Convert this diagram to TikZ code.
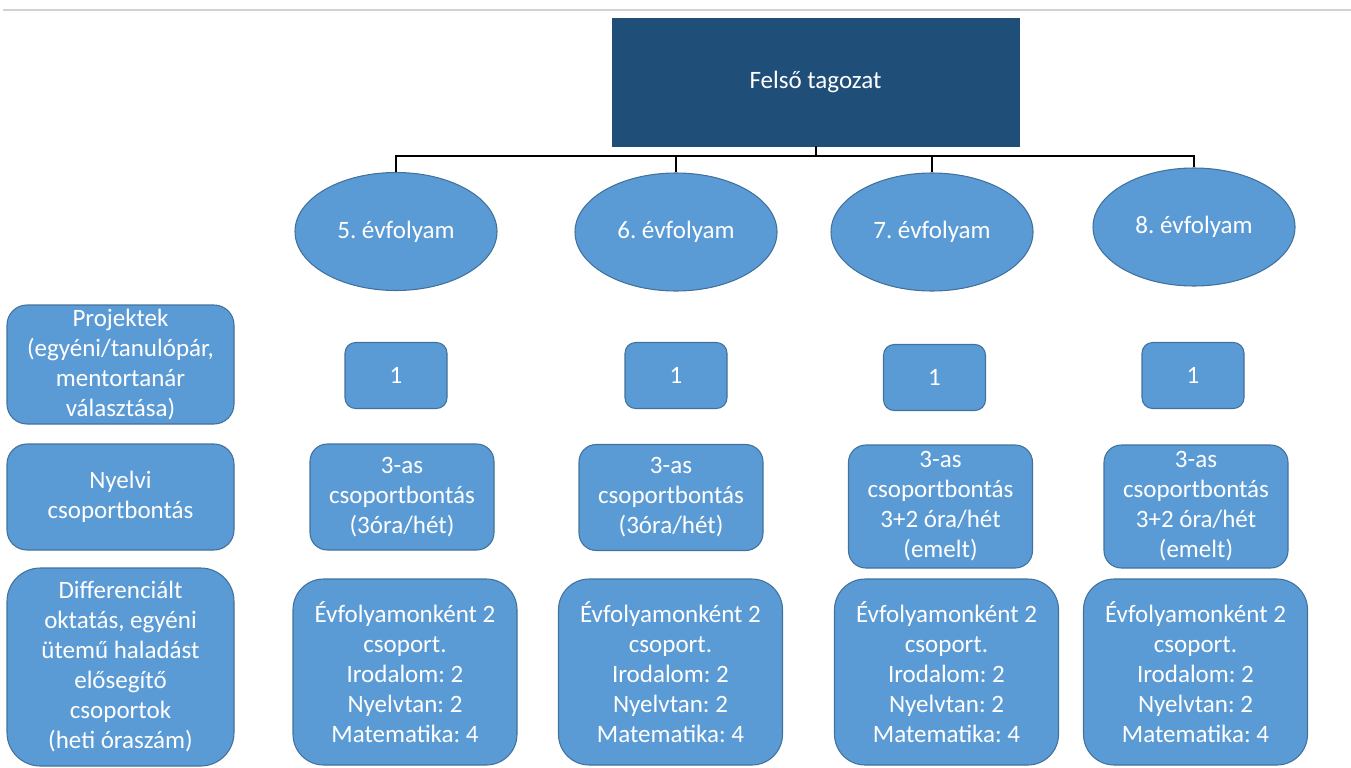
\documentclass[tikz,border=0pt]{standalone}
\usepackage{fontspec}
\setmainfont{Carlito}
\usetikzlibrary{shapes.geometric}
\definecolor{kek}{HTML}{5B9BD5}
\definecolor{kekkeret}{HTML}{41719C}
\definecolor{sotetkek}{HTML}{1F4E79}
\frenchspacing

\begin{document}
\begin{tikzpicture}[
    x=0.75pt, y=-0.75pt,
    every node/.style={text=white, align=center, inner sep=0pt,
        font=\fontsize{18.75}{22.5}\selectfont},
    fej/.style={rectangle, fill=sotetkek, draw=sotetkek,
        minimum width=305.25pt, minimum height=96pt},
    evf/.style={ellipse, fill=kek, draw=kekkeret, line width=0.8pt,
        minimum width=151.5pt, minimum height=88.5pt},
    doboz/.style={rectangle, fill=kek, draw=kekkeret, line width=0.8pt},
    egy/.style={doboz, rounded corners=8pt,
        minimum width=76.5pt, minimum height=49.5pt},
    nyelv/.style={doboz, rounded corners=13pt,
        minimum width=138pt, minimum height=#1},
    nyelv/.default=79.5pt,
    csop/.style={doboz, rounded corners=23pt,
        minimum width=168pt, minimum height=139.5pt},
    bal/.style={doboz, rounded corners=#1,
        minimum width=170.25pt},
    bal/.default=15pt,
    vonal/.style={black, line width=1.5pt}
  ]
    \useasboundingbox (0,0) rectangle (1351,767);
    \draw[gray!35, line width=1.5pt] (3,10) -- (1351,10);

    \node[fej] (felso) at (815.5,82) {Felső tagozat};

    \node[evf] (e5) at (396,231.5) {5. évfolyam};
    \node[evf] (e6) at (676,232) {6. évfolyam};
    \node[evf] (e7) at (932,232) {7. évfolyam};
    \node[evf] (e8) at (1194,227) {8. évfolyam};

    \coordinate (sin) at (815.5,156);
    \draw[vonal] (felso.south) -- (felso.south |- sin);
    \draw[vonal] (e5.north) -- (e5.north |- sin) -- (e8.north |- sin) -- (e8.north);
    \draw[vonal] (e6.north) -- (e6.north |- sin);
    \draw[vonal] (e7.north) -- (e7.north |- sin);

    \node[bal, minimum height=89.25pt] (projekt) at (120.5,364.5)
        {Projektek\\(egyéni/tanulópár,\\mentortanár\\választása)};
    \node[bal, minimum height=79.5pt] (nyelvi) at (120.5,497)
        {Nyelvi\\csoportbontás};
    \node[bal=25pt, minimum height=148.5pt] (diff) at (120.5,667)
        {Differenciált\\oktatás, egyéni\\ütemű haladást\\elősegítő\\csoportok\\(heti óraszám)};

    \node[egy] (p5) at (396,375.5) {1};
    \node[egy] (p6) at (676,375.5) {1};
    \node[egy] (p7) at (934.5,377.5) {1};
    \node[egy] (p8) at (1193,375.5) {1};

    \node[nyelv] (n5) at (402,497) {3-as\\csoportbontás\\(3óra/hét)};
    \node[nyelv] (n6) at (671,497.5) {3-as\\csoportbontás\\(3óra/hét)};
    \node[nyelv=92.25pt] (n7) at (940.5,506.5)
        {3-as\\csoportbontás\\3+2 óra/hét\\(emelt)};
    \node[nyelv=92.25pt] (n8) at (1196,506.5)
        {3-as\\csoportbontás\\3+2 óra/hét\\(emelt)};

    \node[csop] (d5) at (405,672)
        {Évfolyamonként 2\\csoport.\\Irodalom: 2\\Nyelvtan: 2\\Matematika: 4};
    \node[csop] (d6) at (670.5,672)
        {Évfolyamonként 2\\csoport.\\Irodalom: 2\\Nyelvtan: 2\\Matematika: 4};
    \node[csop] (d7) at (946.5,672)
        {Évfolyamonként 2\\csoport.\\Irodalom: 2\\Nyelvtan: 2\\Matematika: 4};
    \node[csop] (d8) at (1195.5,672)
        {Évfolyamonként 2\\csoport.\\Irodalom: 2\\Nyelvtan: 2\\Matematika: 4};
\end{tikzpicture}
\end{document}
